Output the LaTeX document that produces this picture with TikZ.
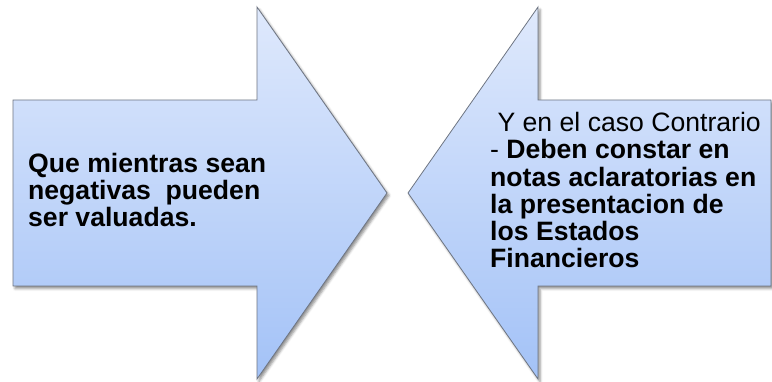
\documentclass[tikz,border=0pt]{standalone}
\usepackage{fontspec}
\setmainfont{Liberation Sans}
\usetikzlibrary{shadows.blur}
\definecolor{arrtop}{RGB}{223,233,252}
\definecolor{arrbot}{RGB}{163,194,247}
\definecolor{arrline}{RGB}{110,117,130}
\tikzset{
  bigarrow/.style={draw=arrline, line width=0.8pt, top color=arrtop, bottom color=arrbot,
    blur shadow={shadow xshift=2pt, shadow yshift=-2.5pt, shadow blur radius=2.5pt, shadow opacity=45}},
  arrtext/.style={inner sep=0pt, align=left, font=\fontsize{26.6}{27.3}\selectfont, text=black}
}
\begin{document}
\begin{tikzpicture}[x=1pt,y=-1pt]
\useasboundingbox (0,0) rectangle (772,382);
% left arrow (pointing right)
\path[bigarrow] (13,100) -- (257,100) -- (257,7) -- (387,193) -- (257,379) -- (257,286) -- (13,286) -- cycle;
% right arrow (pointing left)
\path[bigarrow] (771,100) -- (538,100) -- (538,7) -- (408,193) -- (538,379) -- (538,286) -- (771,286) -- cycle;
\node[arrtext, anchor=base west] (lefttext) at (28,227)
  {\bfseries Que mientras sean\\\bfseries negativas\ \ pueden\\\bfseries ser valuadas.};
\node[arrtext, anchor=base west] (righttext) at (490,268)
  {\ Y en el caso Contrario\\- \textbf{Deben constar en}\\\bfseries notas aclaratorias en\\\bfseries la presentacion de\\\bfseries los Estados\\\bfseries Financieros};
\end{tikzpicture}
\end{document}
